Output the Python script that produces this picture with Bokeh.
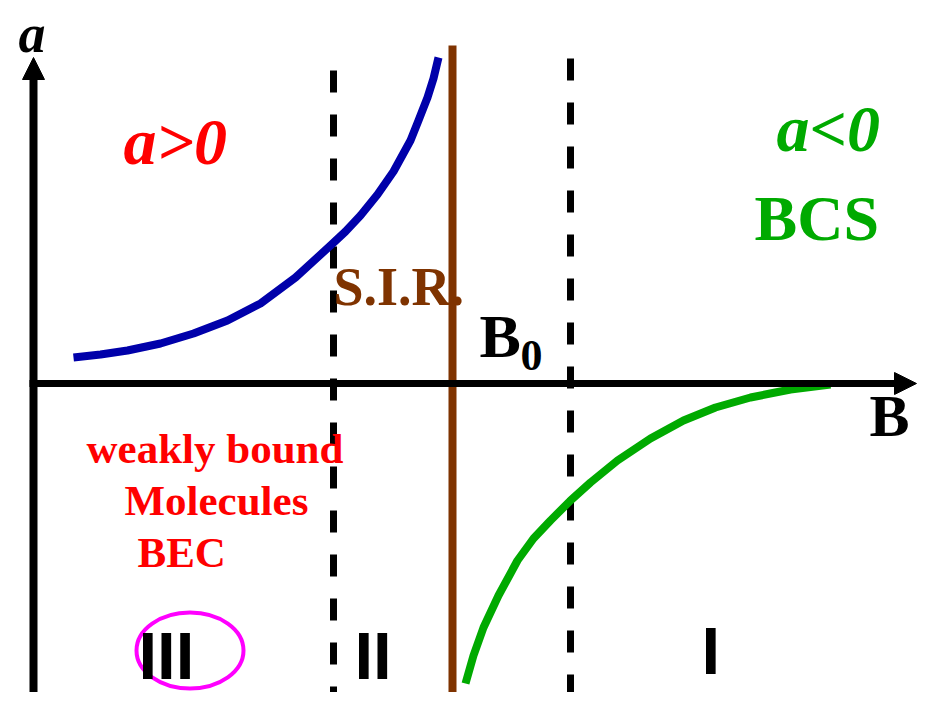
from bokeh.plotting import figure
from bokeh.models import Range1d, Arrow, NormalHead
from bokeh.core.properties import value
from bokeh.embed import file_html
from bokeh.resources import INLINE

# ---- data (B along x, scattering length a along y; a = 0 on the B axis) ----
bec_B = [73, 100, 127, 160, 193, 227, 260, 295, 330, 345, 360, 377, 393, 410, 418, 427, 433, 438]
bec_a = [26, 29, 33, 40, 50, 63, 80, 106, 138, 152, 168, 189, 212, 243, 263, 286, 305, 326]

bcs_B = [465, 473, 483, 498, 517, 533, 550, 570, 590, 617, 650, 683, 715, 750, 790, 830]
bcs_a = [-300, -272, -244, -212, -177, -155, -137, -117, -99, -77, -55, -37, -24, -14, -6, -1]

B0 = 452                      # resonance position
B0_a_top = 338
region_edges = [333, 570]     # boundaries of the strongly-interacting region
region_tops = [313, 325]
a_bottom = -330

axis_B_start, axis_B_end = 29, 916
axis_a_start, axis_a_end = -330, 326
axis_B_pos = 33

SERIF = "Liberation Serif"
SANS = "Liberation Sans"

p = figure(width=917, height=692, output_backend="svg", toolbar_location=None,
           x_range=Range1d(0, 917), y_range=Range1d(-309, 383),
           min_border=0, outline_line_color=None, background_fill_color="white")
p.axis.visible = False
p.grid.visible = False

# axes with arrow heads
p.add_layout(Arrow(end=NormalHead(size=22, fill_color="black", line_color="black"),
                   x_start=axis_B_pos, y_start=axis_a_start, x_end=axis_B_pos, y_end=axis_a_end,
                   line_width=8, line_color="black"))
p.add_layout(Arrow(end=NormalHead(size=22, fill_color="black", line_color="black"),
                   x_start=axis_B_start, y_start=0, x_end=axis_B_end, y_end=0,
                   line_width=7, line_color="black"))

# dashed region boundaries
for xb, top in zip(region_edges, region_tops):
    p.line([xb, xb], [top, a_bottom], line_color="black", line_width=7,
           line_dash="22 22", line_cap="butt")

# resonance line
p.line([B0, B0], [B0_a_top, a_bottom], line_color="#7F3300", line_width=8)

# curves
p.line(bec_B, bec_a, line_color="#0000AA", line_width=8, line_cap="butt", line_join="round")
p.line(bcs_B, bcs_a, line_color="#00AA00", line_width=8, line_cap="butt", line_join="round")

# ellipse around III
p.ellipse(x=[189.5], y=[-267], width=[107], height=[76], fill_color=None,
          line_color="#FF00FF", line_width=4)

# labels: text, x, baseline, size(px), style, color, font
labels = [
    ("a", 18, 331, 54, "bold italic", "black", SERIF),
    ("a>0", 123, 220, 66, "bold italic", "#FF0000", SERIF),
    ("a<0", 776, 233, 66, "bold italic", "#00AA00", SERIF),
    ("BCS", 754, 143, 64, "bold", "#00AA00", SERIF),
    ("S.I.R.", 333, 78, 54, "bold", "#7F3300", SERIF),
    ("B", 479, 26, 62, "bold", "black", SERIF),
    ("0", 520, 13, 44, "bold", "black", SERIF),
    ("B", 869, -53, 60, "bold", "black", SERIF),
    ("weakly bound", 86, -80, 43, "bold", "#FF0000", SERIF),
    ("Molecules", 124, -132, 43, "bold", "#FF0000", SERIF),
    ("BEC", 137, -184, 43, "bold", "#FF0000", SERIF),
    ("III", 138, -295, 67, "bold", "black", SANS),
    ("II", 354, -295, 67, "bold", "black", SANS),
    ("I", 701, -290, 67, "bold", "black", SANS),
]
BASELINE_SHIFT = 0.34   # em offset between requested and rendered alphabetic baseline
for t, x, y, size, style, color, font in labels:
    p.text(x=[x], y=[y + BASELINE_SHIFT * size], text=[t], text_font=value(font),
           text_font_size=f"{size}px", text_font_style=style, text_color=color,
           text_align="left", text_baseline="alphabetic")

open("out.html", "w").write(file_html(p, INLINE))
